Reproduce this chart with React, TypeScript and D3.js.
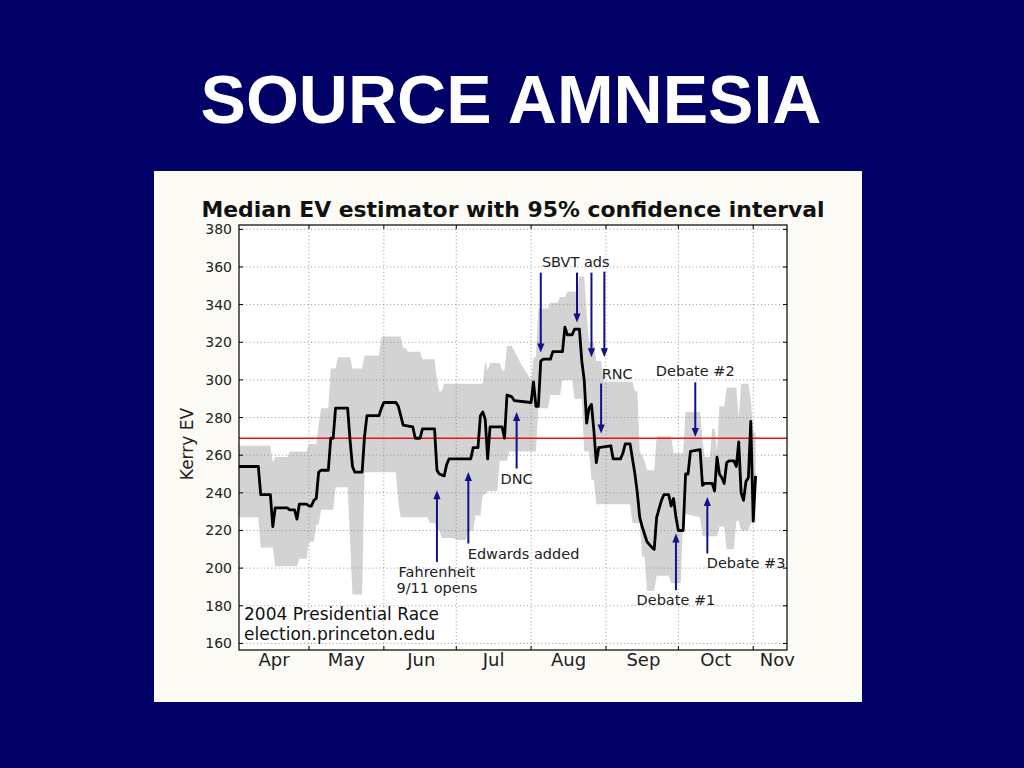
import React from "react";
import * as d3 from "d3";

// ---------- data ----------
const medianEV: [string, number][] = [
  ["04-02",254],["04-10",254],["04-11",239],["04-15",239],["04-16",222],["04-17",232],["04-22",232],["04-23",231],["04-25",231],["04-26",226],["04-27",234],["04-30",234],["05-01",233],["05-02",233],["05-03",236],["05-04",237],["05-05",251],["05-06",252],["05-09",252],["05-10",269],["05-11",269],["05-12",285],["05-17",285],["05-18",268],["05-19",254],["05-20",251],["05-23",251],["05-24",270],["05-25",281],["05-30",281],["05-31",285],["06-01",288],["06-06",288],["06-07",286],["06-08",281],["06-09",276],["06-13",275],["06-14",269],["06-16",269],["06-17",274],["06-22",274],["06-23",252],["06-24",250],["06-26",249],["06-27",255],["06-28",258],["07-07",258],["07-08",264],["07-10",264],["07-11",281],["07-12",283],["07-13",279],["07-14",258],["07-15",275],["07-20",275],["07-21",269],["07-22",292],["07-24",291],["07-25",289],["08-01",288],["08-02",299],["08-03",286],["08-04",286],["08-05",310],["08-06",311],["08-09",311],["08-10",315],["08-14",315],["08-15",328],["08-16",324],["08-18",324],["08-19",327],["08-21",327],["08-22",310],["08-23",300],["08-24",277],["08-25",285],["08-26",287],["08-27",273],["08-28",256],["08-29",264],["09-03",265],["09-04",258],["09-07",258],["09-08",261],["09-09",266],["09-11",266],["09-12",258],["09-13",250],["09-14",240],["09-15",227],["09-16",222],["09-17",218],["09-18",214],["09-20",211],["09-21",210],["09-22",227],["09-24",236],["09-25",239],["09-27",239],["09-28",233],["09-29",237],["09-30",227],["10-01",220],["10-03",220],["10-04",250],["10-05",250],["10-06",262],["10-10",263],["10-11",244],["10-12",245],["10-15",245],["10-16",241],["10-17",259],["10-18",250],["10-19",248],["10-20",245],["10-21",256],["10-22",257],["10-24",257],["10-25",254],["10-26",267],["10-27",240],["10-28",236],["10-29",246],["10-30",248],["10-31",278],["11-01",225],["11-02",249]
];

const upperCI: [string, number][] = [
  ["04-02",265],["04-15",265],["04-16",256],["04-17",259],["04-22",259],["04-23",262],["04-30",262],["05-01",266],["05-04",266],["05-05",276],["05-06",285],["05-09",285],["05-10",306],["05-12",306],["05-13",312],["05-18",312],["05-19",306],["05-23",306],["05-24",313],["05-30",313],["05-31",323],["06-08",323],["06-09",317],["06-10",317],["06-11",315],["06-16",315],["06-17",311],["06-22",311],["06-23",300],["06-24",294],["06-25",294],["06-26",298],["07-12",298],["07-13",310],["07-14",305],["07-15",309],["07-19",309],["07-20",305],["07-21",305],["07-22",318],["07-24",318],["07-28",308],["08-01",300],["08-02",312],["08-03",312],["08-04",338],["08-08",338],["08-09",341],["08-12",341],["08-13",344],["08-15",344],["08-16",347],["08-20",347],["08-21",355],["08-23",355],["08-24",335],["08-25",320],["08-27",320],["08-28",310],["08-30",310],["08-31",299],["09-12",299],["09-13",294],["09-14",294],["09-15",262],["09-17",257],["09-18",252],["09-21",252],["09-22",270],["09-28",270],["09-29",261],["10-03",261],["10-04",283],["10-10",283],["10-11",268],["10-12",259],["10-14",259],["10-15",274],["10-16",274],["10-17",262],["10-18",286],["10-20",286],["10-21",296],["10-25",296],["10-26",280],["10-27",298],["10-30",298],["10-31",290],["11-01",272],["11-02",272]
];

const lowerCI: [string, number][] = [
  ["04-02",227],["04-10",227],["04-11",211],["04-16",211],["04-17",201],["04-26",201],["04-27",205],["04-30",205],["05-01",214],["05-03",214],["05-04",223],["05-05",223],["05-06",231],["05-11",231],["05-12",243],["05-17",243],["05-18",215],["05-19",186],["05-23",186],["05-24",251],["06-06",251],["06-07",235],["06-08",227],["06-19",227],["06-20",224],["06-22",224],["06-23",220],["06-24",220],["06-25",216],["06-30",216],["07-01",215],["07-05",215],["07-06",220],["07-08",220],["07-09",228],["07-11",228],["07-12",239],["07-13",239],["07-14",241],["07-18",241],["07-19",257],["07-22",257],["07-23",262],["08-03",262],["08-04",285],["08-08",285],["08-09",292],["08-13",292],["08-14",300],["08-18",300],["08-19",290],["08-22",290],["08-23",262],["08-25",262],["08-26",247],["08-27",247],["08-28",234],["09-11",234],["09-12",224],["09-15",224],["09-16",206],["09-17",206],["09-18",188],["09-21",188],["09-22",196],["09-27",196],["09-28",192],["10-02",192],["10-03",229],["10-10",227],["10-11",217],["10-17",217],["10-18",222],["10-20",222],["10-21",210],["10-24",210],["10-25",225],["10-26",225],["10-27",220],["10-30",220],["10-31",224],["11-02",224]
];

const yTicks = [160, 180, 200, 220, 240, 260, 280, 300, 320, 340, 360, 380];
const monthStarts = ["05-01", "06-01", "07-01", "08-01", "09-01", "10-01", "11-01"];
const monthLabels = ["Apr", "May", "Jun", "Jul", "Aug", "Sep", "Oct", "Nov"];
const monthLabelDates = ["04-16T12:00", "05-16T12:00", "06-16T12:00", "07-16T12:00", "08-16T12:00", "09-16T12:00", "10-16T12:00", "11-11T00:00"];
const winThreshold = 269;
const xDomain = ["04-02", "11-15"];
const yDomain = [156.5, 382.3];

// arrows: date, tail EV, tip EV
const arrows: [string, number, number][] = [
  ["08-05", 357, 314.6],
  ["08-20", 357, 330.5],
  ["08-26", 357, 312],
  ["08-31T08:00", 357.5, 312],
  ["08-30", 298.1, 271.5],
  ["10-08", 298.7, 269.7],
  ["07-26", 252.9, 282.9],
  ["07-06", 213.1, 251.1],
  ["06-23", 203.3, 241.4],
  ["09-30", 188.3, 218.4],
  ["10-13", 207.8, 237.8],
];

// labels: text, date, EV, anchor
const annLabels: [string, string, number, string][] = [
  ["SBVT ads", "08-19T12:00", 362.9, "middle"],
  ["RNC", "08-30T06:00", 303.4, "start"],
  ["Debate #2", "10-08", 304.5, "middle"],
  ["DNC", "07-26", 247.2, "middle"],
  ["Edwards added", "07-05T18:00", 207.4, "start"],
  ["Fahrenheit", "06-23", 197.8, "middle"],
  ["9/11 opens", "06-23", 189.5, "middle"],
  ["Debate #1", "09-30", 183, "middle"],
  ["Debate #3", "10-12T18:00", 202.7, "start"],
];

const sourceLines = ["2004 Presidential Race", "election.princeton.edu"];

// ---------- helpers ----------
const parse = (s: string) => new Date(`2004-${s}${s.includes("T") ? ":00" : "T00:00:00"}`);

const L = 239, R = 787, T = 225, B = 650;
const FONT = "'DejaVu Sans', sans-serif";
const NAVY = "#121288";

export default function App() {
  const x = d3.scaleTime().domain(xDomain.map(parse)).range([L, R]);
  const y = d3.scaleLinear().domain(yDomain).range([B, T]);

  const lineGen = d3
    .line<[string, number]>()
    .x((d) => x(parse(d[0])))
    .y((d) => y(d[1]));

  const bandPts: [string, number][] = upperCI.concat(lowerCI.slice().reverse());
  const bandPath = lineGen(bandPts) + "Z";
  const medianPath = lineGen(medianEV) || "";

  return (
    <svg
      width={1024}
      height={768}
      style={{ position: "fixed", left: 0, top: 0, display: "block" }}
    >
      <rect x={0} y={0} width={1024} height={768} fill="#000066" />
      <text
        x={511}
        y={123}
        textAnchor="middle"
        fill="#ffffff"
        fontFamily="'Liberation Sans', Arial, sans-serif"
        fontWeight="bold"
        fontSize={68}
      >
        SOURCE AMNESIA
      </text>

      <rect x={154} y={171} width={708} height={531} fill="#fbfaf5" />

      <text
        x={(L + R) / 2}
        y={216.5}
        textAnchor="middle"
        fontFamily={FONT}
        fontWeight="bold"
        fontSize={21.9}
        fill="#111"
      >
        Median EV estimator with 95% confidence interval
      </text>

      <defs>
        <clipPath id="plotclip">
          <rect x={L} y={T} width={R - L} height={B - T} />
        </clipPath>
      </defs>

      <rect x={L} y={T} width={R - L} height={B - T} fill="#ffffff" />

      <g clipPath="url(#plotclip)">
        <path d={bandPath} fill="#d3d3d3" stroke="none" />
        {yTicks.map((v) => (
          <line key={"gy" + v} x1={L} x2={R} y1={y(v)} y2={y(v)} stroke="#8a8a8a" strokeWidth={0.9} strokeDasharray="1 2.6" />
        ))}
        {monthStarts.map((m) => (
          <line key={"gx" + m} x1={x(parse(m))} x2={x(parse(m))} y1={T} y2={B} stroke="#8a8a8a" strokeWidth={0.9} strokeDasharray="1 2.6" />
        ))}
        <line x1={L} x2={R} y1={y(winThreshold)} y2={y(winThreshold)} stroke="#e8141a" strokeWidth={1.5} />
        <path d={medianPath} fill="none" stroke="#000" strokeWidth={2.8} strokeLinejoin="round" />
      </g>

      {/* frame and ticks */}
      <rect x={L} y={T} width={R - L} height={B - T} fill="none" stroke="#000" strokeWidth={1.2} />
      {yTicks.map((v) => (
        <g key={"ty" + v}>
          <line x1={L} x2={L + 4} y1={y(v)} y2={y(v)} stroke="#000" strokeWidth={1} />
          <line x1={R - 4} x2={R} y1={y(v)} y2={y(v)} stroke="#000" strokeWidth={1} />
          <text x={232} y={y(v)} textAnchor="end" dominantBaseline="central" fontFamily={FONT} fontSize={14} fill="#222">
            {v}
          </text>
        </g>
      ))}
      {monthStarts.map((m) => (
        <g key={"tx" + m}>
          <line x1={x(parse(m))} x2={x(parse(m))} y1={T} y2={T + 4} stroke="#000" strokeWidth={1} />
          <line x1={x(parse(m))} x2={x(parse(m))} y1={B - 4} y2={B} stroke="#000" strokeWidth={1} />
        </g>
      ))}
      {monthLabels.map((lab, i) => (
        <text key={lab} x={x(parse(monthLabelDates[i]))} y={666} textAnchor="middle" fontFamily={FONT} fontSize={18} fill="#222">
          {lab}
        </text>
      ))}

      <text
        transform={`translate(187,${444}) rotate(-90)`}
        textAnchor="middle"
        dominantBaseline="central"
        fontFamily={FONT}
        fontSize={17}
        fill="#222"
      >
        Kerry EV
      </text>

      {/* source box text */}
      {sourceLines.map((s, i) => (
        <text key={s} x={244} y={620 + i * 19.5} fontFamily={FONT} fontSize={17} fill="#111">
          {s}
        </text>
      ))}

      {/* annotations */}
      {arrows.map(([d, from, to], i) => {
        const ax = x(parse(d));
        const y1 = y(from);
        const y2 = y(to);
        const dir = Math.sign(y2 - y1);
        const hl = 9;
        const hw = 3.6;
        return (
          <g key={"ar" + i}>
            <line x1={ax} x2={ax} y1={y1} y2={y2 - dir * (hl - 1)} stroke={NAVY} strokeWidth={2} />
            <polygon
              points={`${ax},${y2} ${ax - hw},${y2 - dir * hl} ${ax + hw},${y2 - dir * hl}`}
              fill={NAVY}
            />
          </g>
        );
      })}
      {annLabels.map(([t, d, v, anchor], i) => (
        <text
          key={"al" + i}
          x={x(parse(d))}
          y={y(v)}
          textAnchor={anchor as any}
          dominantBaseline="central"
          fontFamily={FONT}
          fontSize={14.5}
          fill="#222"
        >
          {t}
        </text>
      ))}
    </svg>
  );
}
